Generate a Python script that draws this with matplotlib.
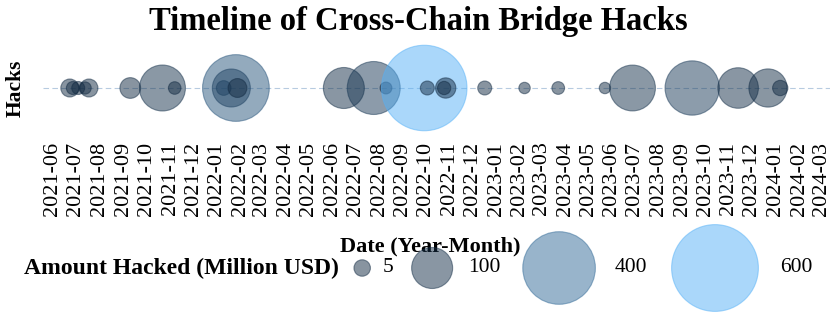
import numpy as np
import pandas as pd
import matplotlib
matplotlib.use('Agg')
import matplotlib.pyplot as plt
from matplotlib.colors import LinearSegmentedColormap, PowerNorm
from matplotlib.offsetbox import HPacker, TextArea, DrawingArea, AnchoredOffsetbox
from matplotlib.patches import Circle

plt.rcParams['font.family'] = ['Liberation Serif', 'DejaVu Serif']

# ---------------- data ----------------
hack_dates = ['2021-06-23', '2021-06-27', '2021-07-04', '2021-07-13', '2021-07-18',
              '2021-09-10', '2021-10-22', '2021-11-07',
              '2022-01-10', '2022-01-20', '2022-01-26', '2022-01-28',
              '2022-06-16', '2022-07-25', '2022-08-10', '2022-09-29', '2022-10-03',
              '2022-10-25', '2022-10-27', '2022-12-17',
              '2023-02-07', '2023-03-23', '2023-05-23', '2023-06-28', '2023-09-14',
              '2023-11-13', '2023-12-22', '2024-01-07']
amounts = [7.4, 1.3, 1.3, 0.8, 7.4,
           12.8, 134, 1.0,
           2.8, 82, 329, 9,
           100, 190, 0.6, 580, 2.1,
           1.5, 11.9, 2.1,
           0.4, 1.1, 0.4, 133, 202,
           97, 83, 3.5]
legend_values = [5, 100, 400, 600]
legend_labels = ['5', '100', '400', '600']
tick_months = pd.date_range('2021-06-01', '2024-03-01', freq='MS')
tick_labels = [d.strftime('%Y-%m') for d in tick_months]

# ---------------- styling helpers ----------------
DPI = 100
PX2PT = 72 / DPI
ALPHA = 0.5
cmap = LinearSegmentedColormap.from_list('hack', ['#132B43', '#56B1F7'])
norm = PowerNorm(gamma=2, vmin=0, vmax=max(amounts))


def diameter_px(v):
    return 9.4 + 3.16 * np.sqrt(np.asarray(v, dtype=float))


dates = pd.to_datetime(hack_dates)
amts = np.array(amounts)

fig = plt.figure(figsize=(8.36, 3.32), dpi=DPI)
W, H = 836, 332
ax_left, ax_right, ax_top, ax_bottom = 43, 830, 40, 136
ax = fig.add_axes([ax_left / W, 1 - ax_bottom / H, (ax_right - ax_left) / W, (ax_bottom - ax_top) / H])

ax.axhline(0, color='#b7cbe0', lw=0.8, dashes=(5, 3), zorder=1)
ax.scatter(dates, np.zeros(len(amts)), s=(diameter_px(amts) * PX2PT) ** 2,
           c=amts, cmap=cmap, norm=norm, alpha=ALPHA, edgecolors='face',
           linewidths=0.8, clip_on=False, zorder=3)

ax.set_xlim(pd.Timestamp('2021-05-19'), pd.Timestamp('2024-03-12'))
ax.set_ylim(-1, 1)
ax.set_yticks([])
ax.set_xticks(tick_months)
ax.set_xticklabels(tick_labels, rotation=90, fontsize=16)
ax.tick_params(axis='x', length=0, pad=4)
for s in ax.spines.values():
    s.set_visible(False)

fig.text(0.5, 1 - 30 / H, 'Timeline of Cross-Chain Bridge Hacks', fontsize=23.5,
         fontweight='bold', ha='center', va='baseline')
ax.set_xlabel('Date (Year-Month)', fontsize=16, fontweight='bold')
ax.xaxis.set_label_coords((430 - ax_left) / (ax_right - ax_left), 1 - (236 - ax_top) / (ax_bottom - ax_top))
ax.xaxis.label.set_va('top')
ax.set_ylabel('Hacks', fontsize=15.5, fontweight='bold')
ax.yaxis.set_label_coords(-0.022, 0.5)

# ---------------- size legend ----------------
def spacer(px):
    return DrawingArea(px * PX2PT, 1)

children = [TextArea('Amount Hacked (Million USD)',
                     textprops=dict(fontsize=17, fontweight='bold')), spacer(13)]
for i, (v, lab) in enumerate(zip(legend_values, legend_labels)):
    d = float(diameter_px(v))
    kw = 1.26 * d
    hgt = d * PX2PT + 2
    da = DrawingArea(kw * PX2PT, hgt)
    col = cmap(norm(min(v, norm.vmax)))
    da.add_artist(Circle((kw * PX2PT / 2, hgt / 2), d * PX2PT / 2,
                         facecolor=col, edgecolor=col, alpha=ALPHA, lw=0.8))
    children.append(da)
    children.append(spacer(10))
    children.append(TextArea(lab, textprops=dict(fontsize=15.5)))
    if i < len(legend_values) - 1:
        children.append(spacer(13))

pack = HPacker(children=children, align='center', pad=0, sep=0)
ab = AnchoredOffsetbox(loc='center', child=pack, frameon=False, pad=0, borderpad=0,
                       bbox_to_anchor=(0.5, 1 - 268 / H),
                       bbox_transform=fig.transFigure)
fig.add_artist(ab)

fig.savefig('out.png', dpi=DPI)
